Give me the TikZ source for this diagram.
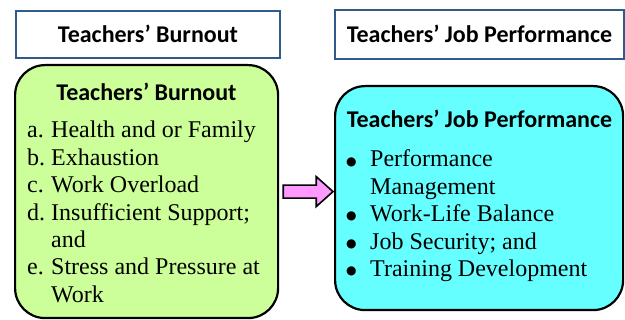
\documentclass[tikz,border=0pt]{standalone}
\usepackage{fontspec}
\setmainfont{Liberation Serif}
\newfontfamily\headfont{Carlito}
\newfontfamily\symfont{DejaVu Sans}
\usetikzlibrary{calc}
\definecolor{frameblue}{HTML}{2F5A8A}
\definecolor{burngreen}{HTML}{CCFF99}
\definecolor{perfcyan}{HTML}{66FFFF}
\definecolor{arrowpink}{HTML}{FF99FF}
\newcommand{\lbl}[1]{\makebox[24pt][l]{#1}}
\newcommand{\bul}{\lbl{\raisebox{1.8pt}{\symfont\fontsize{12}{12}\selectfont ●}}}

\begin{document}
\begin{tikzpicture}[x=1pt,y=-1pt,
  headbox/.style={draw=frameblue, line width=2pt, fill=white, inner sep=0pt,
    anchor=north west, text height=17pt, text depth=0pt,
    font=\headfont\bfseries\fontsize{24}{28}\selectfont},
  panel/.style={draw=black, line width=2.2pt, rounded corners=30pt,
    anchor=north west, inner sep=0pt},
  paneltitle/.style={anchor=base, inner sep=0pt,
    font=\headfont\bfseries\fontsize{24}{28}\selectfont},
  itemlist/.style={anchor=base west, inner sep=0pt,
    font=\fontsize{24}{27.4}\selectfont},
  blockarrow/.style={draw=black, line width=1.6pt, fill=arrowpink, line join=miter}
]
\useasboundingbox (0,0) rectangle (625,320);

% column headers
\node[headbox, minimum width=264pt, minimum height=47pt] (hleft) at (15,10) {Teachers’ Burnout};
\node[headbox, minimum width=289pt, minimum height=49pt] (hright) at (334,9) {Teachers’ Job Performance};

% rounded panels
\node[panel, fill=burngreen, minimum width=263pt, minimum height=253pt] (green) at (14,64) {};
\node[panel, fill=perfcyan, minimum width=288pt, minimum height=224pt] (cyan) at (334,85) {};

% panel titles
\node[paneltitle] (gtitle) at (146.5,101) {Teachers’ Burnout};
\node[paneltitle] (ctitle) at (479.5,128) {Teachers’ Job Performance};

% burnout factors
\node[itemlist] (glist) at (27,138) {\begin{tabular}[t]{@{}l@{}l@{}}
\lbl{a.} & Health and or Family\\
\lbl{b.} & Exhaustion\\
\lbl{c.} & Work Overload\\
\lbl{d.} & Insufficient Support;\\
 & and\\
\lbl{e.} & Stress and Pressure at\\
 & Work
\end{tabular}};

% performance dimensions
\node[itemlist] (clist) at (346,167) {\begin{tabular}[t]{@{}l@{}l@{}}
\bul & Performance\\
 & Management\\
\bul & Work-Life Balance\\
\bul & Job Security; and\\
\bul & Training Development
\end{tabular}};

% block arrow between the panels
\draw[blockarrow] ($(green.east)+(4,-6.5)$) -- ($(green.east)+(37,-6.5)$)
  -- ($(green.east)+(37,-15)$) -- ($(cyan.west|-green.east)+(-1,0)$)
  -- ($(green.east)+(37,15)$) -- ($(green.east)+(37,6.5)$)
  -- ($(green.east)+(4,6.5)$) -- cycle;
\end{tikzpicture}
\end{document}
